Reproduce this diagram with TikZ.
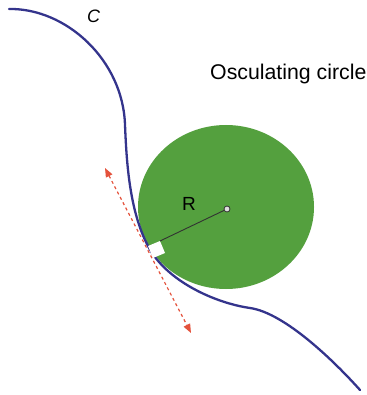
\documentclass[tikz,border=0pt]{standalone}
\usepackage{fontspec}
\setmainfont{Liberation Sans}
\usetikzlibrary{arrows.meta}
\definecolor{discgreen}{RGB}{84,160,62}
\definecolor{curveblue}{RGB}{52,52,140}
\definecolor{tanred}{RGB}{228,82,60}
\definecolor{radgray}{RGB}{50,50,50}
\tikzset{
  curvestyle/.style={draw=curveblue, line width=2.3pt, line cap=round},
  tangentstyle/.style={draw=tanred, line width=1.2pt, dash pattern=on 3pt off 3pt,
     {Triangle[length=9pt,width=7pt]}-{Triangle[length=9pt,width=7pt]}},
  radiusstyle/.style={draw=radgray, line width=0.9pt},
  centerdot/.style={circle, draw=radgray, fill=gray!25, line width=0.8pt, inner sep=0pt, minimum size=6pt},
  lbl/.style={inner sep=0pt}
}
\begin{document}
\begin{tikzpicture}[x=1pt,y=-1pt]
\useasboundingbox (0,0) rectangle (366,395);
% disc
\fill[discgreen] (226,207) ellipse [x radius=88, y radius=82];
% curve C
\coordinate (p0) at (9,9);
\coordinate (p1) at (125,125);
\coordinate (T) at (148,246);
\coordinate (p3) at (250,308);
\coordinate (p4) at (360,390);
\draw[curvestyle] (p0) .. controls (66,8) and (123,60) .. (p1)
  .. controls (126.5,160) and (129,210) .. (T)
  .. controls (166,281) and (215,303) .. (p3)
  .. controls (285,313) and (335,362) .. (p4);
% right-angle marker
\coordinate (B) at (160,241);
\coordinate (Cc) at (165,253);
\coordinate (D) at (153,258);
\fill[white] (T) -- (B) -- (Cc) -- (D) -- cycle;
% tangent line
\coordinate (tanA) at (105,168);
\coordinate (tanB) at (191,333);
\draw[tangentstyle] (tanA) -- (tanB);
% radius
\node[centerdot] (ctr) at (227,209) {};
\draw[radiusstyle] (ctr) -- (B);
% labels
\node[lbl, anchor=base west, font=\fontsize{19}{19}\selectfont] (rlab) at (182,210) {R};
\node[lbl, anchor=base west, font=\fontsize{18}{18}\selectfont\itshape] (clab) at (87,23) {C};
\node[lbl, anchor=base west, font=\fontsize{21.3}{21.3}\selectfont] (olab) at (210,80) {Osculating circle};
\end{tikzpicture}
\end{document}
